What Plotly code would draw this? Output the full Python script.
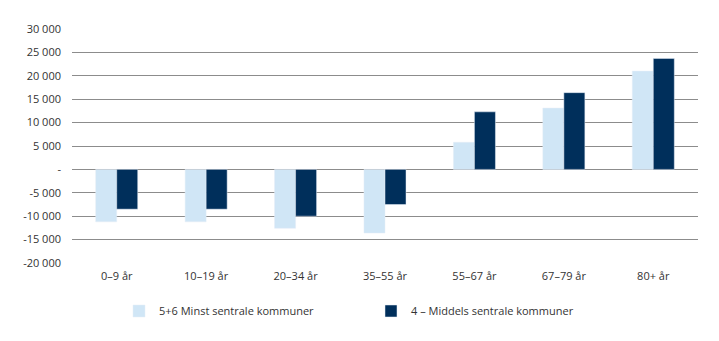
import plotly.graph_objects as go

categories = ["0–9 år", "10–19 år", "20–34 år", "35–55 år", "55–67 år", "67–79 år", "80+ år"]
minst = [-11200, -11200, -12600, -13600, 5800, 13100, 21000]
middels = [-8500, -8500, -10000, -7500, 12300, 16400, 23700]
series_names = ["5+6 Minst sentrale kommuner", "4 – Middels sentrale kommuner"]
tick_vals = [-20000, -15000, -10000, -5000, 0, 5000, 10000, 15000, 20000, 25000, 30000]
tick_text = ["-20 000", "-15 000", "-10 000", "-5 000", "-", "5 000", "10 000",
             "15 000", "20 000", "25 000", "30 000"]

fig = go.Figure()
fig.add_trace(go.Bar(x=categories, y=minst, name=series_names[0], marker_color="#d0e6f6",
                     legend="legend"))
fig.add_trace(go.Bar(x=categories, y=middels, name=series_names[1], marker_color="#002f5b",
                     legend="legend2"))

leg_common = dict(orientation="h", yanchor="middle", xanchor="left",
                  bgcolor="rgba(0,0,0,0)",
                  font=dict(family="Open Sans", size=11, color="#333333"))

fig.update_layout(
    width=719, height=341,
    margin=dict(l=72, r=21, t=29, b=78, autoexpand=False),
    paper_bgcolor="white", plot_bgcolor="white",
    font=dict(family="Open Sans", size=11, color="#333333"),
    barmode="group", bargap=0.53, bargroupgap=0,
    showlegend=True,
    legend=dict(x=(119 - 72) / 626, y=(263 - 311) / 234, **leg_common),
    legend2=dict(x=(371 - 72) / 626, y=(263 - 311) / 234, **leg_common),
    xaxis=dict(showgrid=False, showline=False, ticks="", tickfont=dict(size=11),
               ticklabelstandoff=5),
    yaxis=dict(range=[-20000, 30000], tickvals=tick_vals, ticktext=tick_text,
               showgrid=True, gridcolor="#8c8c8c", gridwidth=1,
               zeroline=True, zerolinecolor="#8c8c8c", zerolinewidth=1,
               ticks="", ticklabelstandoff=10),
)

fig.write_html("out.html")
